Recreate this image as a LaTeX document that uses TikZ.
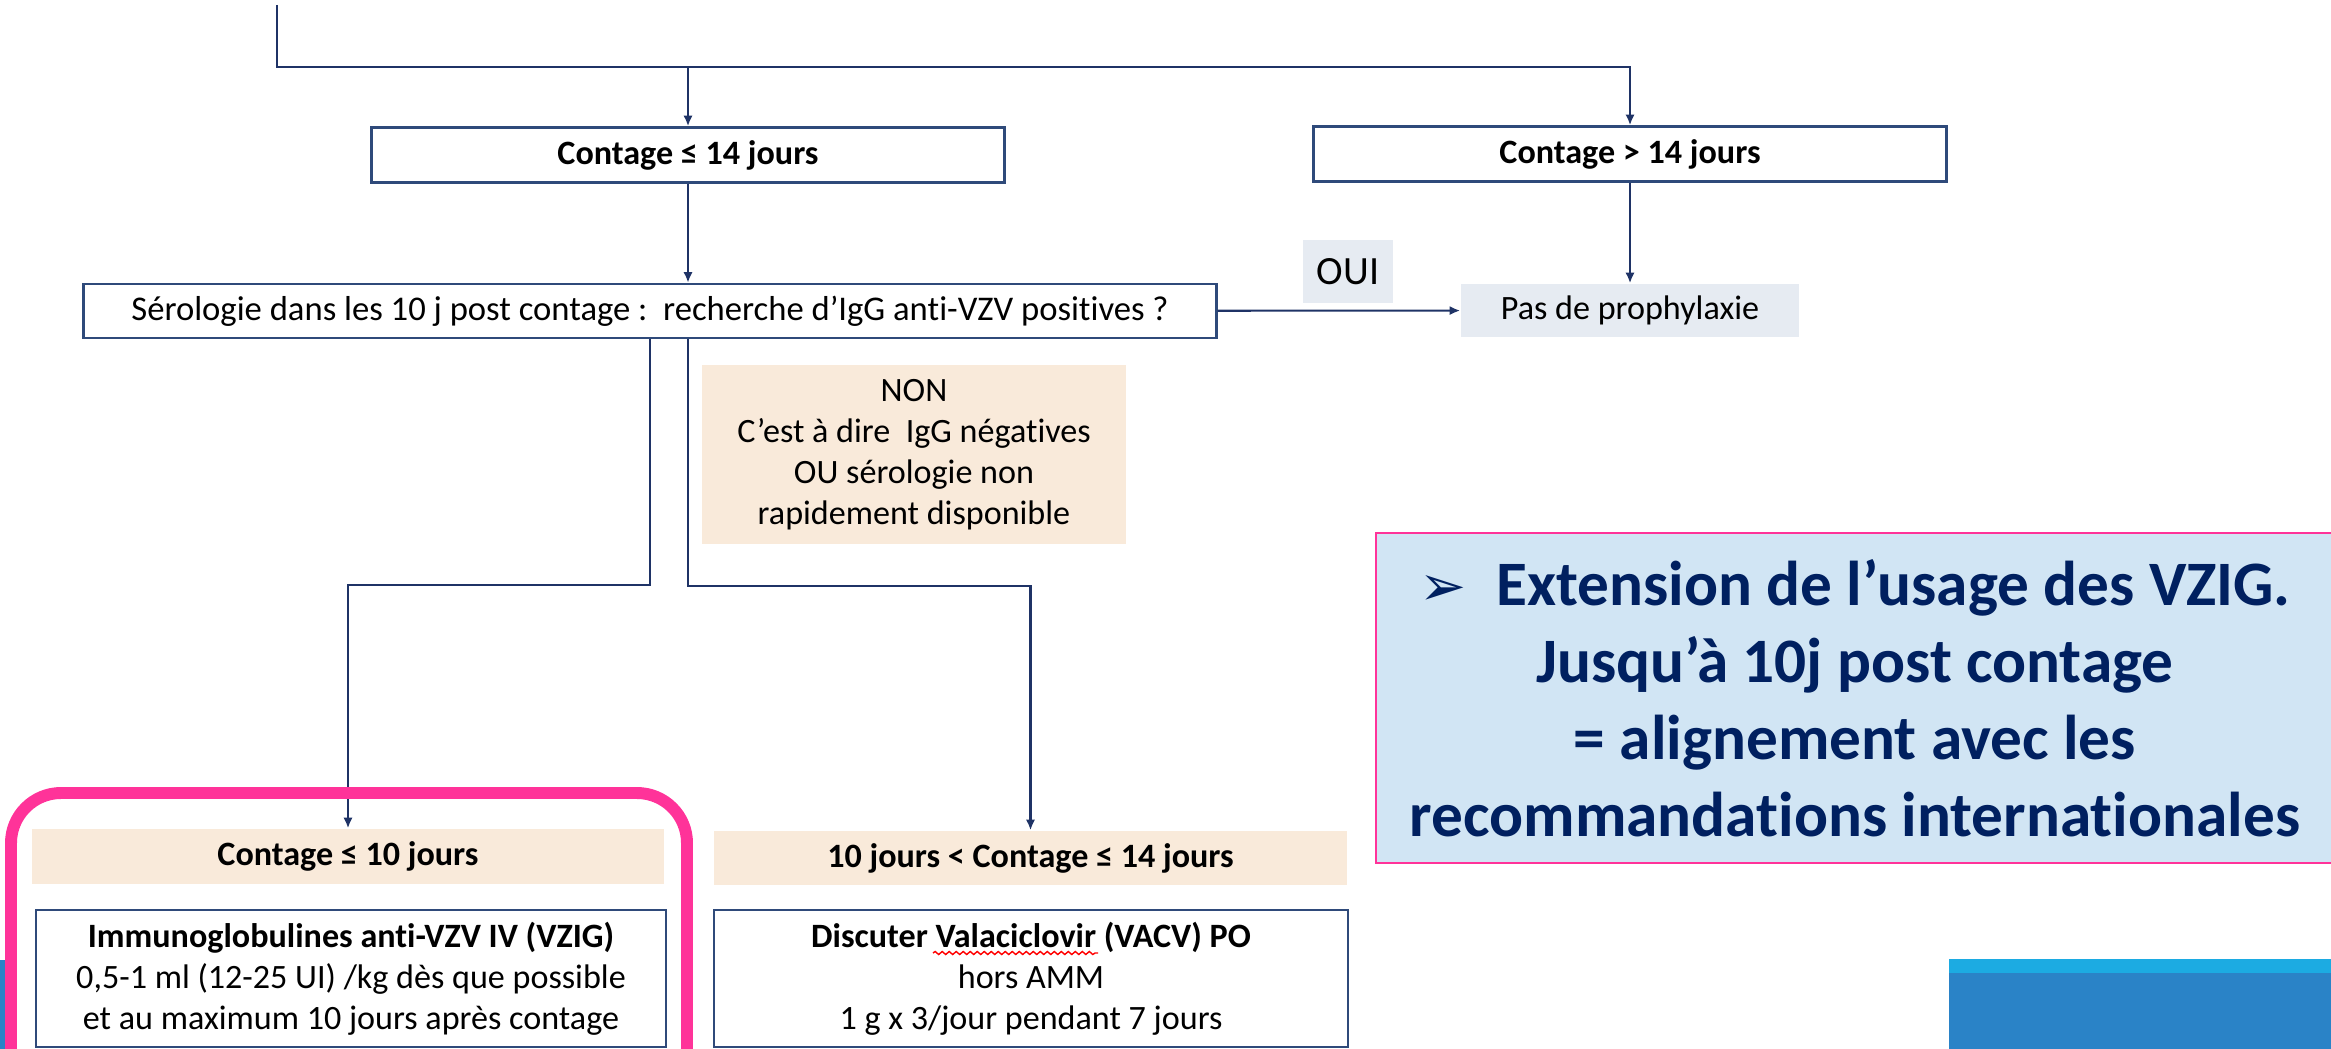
\documentclass[tikz,border=0pt]{standalone}
\usepackage{fontspec}
\setmainfont{Carlito}[Ligatures=NoCommon]
\newfontfamily\arrowfont{DejaVu Sans}
\usetikzlibrary{arrows.meta,decorations.pathmorphing}
\definecolor{linenavy}{HTML}{1F3366}
\definecolor{boxnavy}{HTML}{2F4A7A}
\definecolor{beige}{HTML}{F9EADA}
\definecolor{greyblue}{HTML}{E6EBF2}
\definecolor{lightblue}{HTML}{D1E5F4}
\definecolor{hotpink}{HTML}{FF3399}
\definecolor{textnavy}{HTML}{002060}
\definecolor{slidecyan}{HTML}{1CABE2}
\definecolor{slideblue}{HTML}{2A83C7}
\begin{document}
\begin{tikzpicture}
[x=0.01cm, y=-0.01cm,
 nodes={inner sep=0pt, align=center, font=\fontsize{9.7}{11.7}\selectfont},
 framed/.style={draw=boxnavy, line width=0.7pt, fill=white},
 beigebox/.style={fill=beige},
 greybox/.style={fill=greyblue},
 link/.style={->, draw=linenavy, line width=0.6pt},
 >={Latex[length=3pt,width=2.6pt]}]
\useasboundingbox (0,0) rectangle (2331,1049);
\clip (0,0) rectangle (2331,1049);

% slide background bits
\fill[slideblue] (1949,959) rectangle (2331,1049);
\fill[slidecyan] (1949,959) rectangle (2331,973);
\fill[slideblue] (0,960) rectangle (5,1049);

\node (ContageShort) at (688,155) [framed, minimum width=6.33cm, minimum height=0.55cm] {\textbf{Contage ≤ 14 jours}};
\node (ContageLong) at (1630,154) [framed, minimum width=6.33cm, minimum height=0.55cm] {\textbf{Contage > 14 jours}};
\node (Sero) at (650,311) [framed, minimum width=11.32cm, minimum height=0.54cm, font=\fontsize{9.85}{11.7}\selectfont] {Sérologie dans les 10 j post contage :~~recherche d’IgG anti-VZV positives ?};
\node (Pas) at (1630,310.5) [greybox, minimum width=3.38cm, minimum height=0.53cm] {Pas de prophylaxie};
\node (Oui) at (1348,271.5) [greybox, minimum width=0.9cm, minimum height=0.63cm, font=\fontsize{11.4}{13}\selectfont] {OUI};
\node (Non) at (914,454.5) [beigebox, minimum width=4.24cm, minimum height=1.79cm] {NON\\C’est à dire~~IgG négatives\\OU sérologie non\\rapidement disponible};
\node (ContageTen) at (348,856.5) [beigebox, minimum width=6.32cm, minimum height=0.55cm] {\textbf{Contage ≤ 10 jours}};
\node (ContageMid) at (1030.5,858) [beigebox, minimum width=6.33cm, minimum height=0.54cm] {\textbf{10 jours < Contage ≤ 14 jours}};
\node (Vzig) at (351,978.5) [framed, minimum width=6.3cm, minimum height=1.37cm] {\textbf{Immunoglobulines anti-VZV IV (VZIG)}\\0,5-1 ml (12-25 UI) /kg dès que possible\\et au maximum 10 jours après contage};
\node (Vacv) at (1031,978.5) [framed, minimum width=6.34cm, minimum height=1.37cm] {\textbf{Discuter Valaciclovir (VACV) PO}\\hors AMM\\1 g x 3/jour pendant 7 jours};
\node (Extension) at (1855,698) [draw=hotpink, line width=0.6pt, fill=lightblue, minimum width=9.58cm, minimum height=3.3cm, text=textnavy, font=\fontsize{18}{21.9}\selectfont\bfseries] {{\arrowfont\mdseries\fontsize{16}{16}\selectfont ➢}\hspace{0.3cm}Extension de l’usage des VZIG.\\Jusqu’à 10j post contage\\= alignement avec les\\recommandations internationales};

% connectors
\coordinate (Start) at (277,5);
\coordinate (Bar) at (277,67);
\draw[link] (Start) -- (Bar) -| (ContageLong);
\draw[link] (ContageShort.north |- Bar) -- (ContageShort);
\draw[link] (ContageShort) -- (ContageShort |- Sero.north);
\draw[link] (ContageLong) -- (Pas);
\draw[link] (Sero) -- (Pas);
\draw[link] (Sero.south) -- ++(0,246) -| (ContageTen);
\draw[link] (Sero.south -| ContageShort) -- ++(0,247) -| (ContageMid);

% spell-check wave and highlight frame
\draw[red, line width=0.4pt, decorate, decoration={snake, amplitude=0.015cm, segment length=0.07cm}] (933,953) -- (1098,953);
\draw[hotpink, line width=3.4pt, rounded corners=0.5cm] (11,793) rectangle (687,1110);
\end{tikzpicture}
\end{document}
